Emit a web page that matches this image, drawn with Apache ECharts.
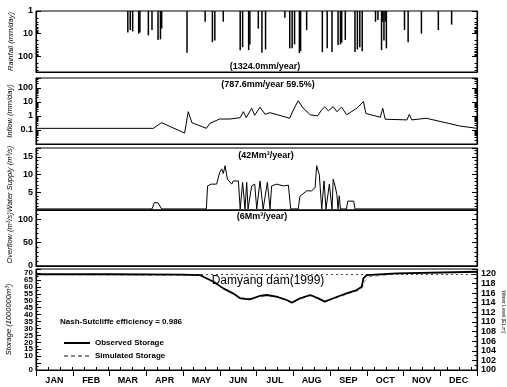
<!DOCTYPE html>
<html><head><meta charset="utf-8">
<script src="https://cdn.jsdelivr.net/npm/echarts@6/dist/echarts.min.js"></script>
<style>html,body{margin:0;padding:0;background:#fff}#c{width:507px;height:387px}</style>
</head><body><div id="c"></div><script>
// ---- data (x = day of year) ----
const months = ['JAN','FEB','MAR','APR','MAY','JUN','JUL','AUG','SEP','OCT','NOV','DEC'];
const rainfall = [[76,9],[78,7],[80,8],[85,10],[86,9],[93,12],[96,7],[101,19],[103,18],[104,6],[125,70],[140,3],[146,24],[148,20],[155,3],[169,54],[171,40],[176,54],[177,30],[184,6],[187,70],[190,50],[206,2],[210,45],[212,44],[214,30],[218,73],[219,60],[224,7],[237,66],[241,44],[245,66],[250,32],[252,30],[253,25],[256,19],[264,66],[266,50],[268,40],[270,60],[281,3],[283,2.5],[286,54],[287,3],[288,20],[289,3],[290,45],[305,7],[308,24],[319,10],[333,7],[344,4]];
const inflow = [[0,0.13],[97,0.13],[104,0.33],[108,0.23],[123,0.06],[126,2.0],[129,0.33],[141,0.13],[144,0.3],[152,0.6],[160.6,0.6],[169,0.75],[171.6,2.0],[174,0.75],[178.5,3.5],[181,1.1],[185.4,4.2],[189.6,1.3],[193.7,1.7],[210,0.68],[213,2.7],[217,12],[221,3.7],[227,1.2],[233,1.0],[236.5,2.7],[239,4.4],[242,2.3],[246,4.6],[249,2.0],[253,4.2],[257,1.2],[261,2.0],[265.5,3.5],[271,10.5],[273,1.5],[285,0.8],[287,3.5],[289,0.58],[307,0.52],[309,1.3],[311,0.52],[323,0.68],[351,0.19],[365,0.13]];
const waterSupply = [[0,0.3],[96,0.3],[98,2.1],[101,2.0],[104,0.3],[141,0.3],[142,6.8],[145,7.3],[149.5,7.3],[152,10.6],[153.7,11.6],[155,10.3],[156.5,12.5],[158.4,8.7],[162,7.3],[163.3,8.2],[167.5,8.2],[169,0.3],[171,7.8],[173,0.3],[174.4,7.8],[175.5,0.3],[178.5,6.8],[181,7.3],[182.7,0.3],[185.4,8.2],[188,0.3],[191.5,7.8],[193.7,0.3],[195,6.8],[199,7.3],[204.7,6.8],[208.9,7.0],[210.8,0.3],[217,0.3],[218.5,3.9],[224,5.4],[228,5.4],[231,6.3],[232.3,12.5],[234.5,9.9],[236.5,0.3],[238.4,8.2],[240,0.3],[242.8,7.3],[245,0.3],[246,8.7],[247.5,6.8],[249,4.4],[250,0.3],[251,4.0],[252,0.3],[257,0.3],[258,2.5],[263,2.5],[264,0.3],[365,0.3]];
const overflow = [[0,0],[365,0]];
const observedStorage = [[0,69.2],[60,69.2],[120,69.0],[136,68.6],[138.5,67.4],[147,63.8],[155,59],[163,55.4],[169,51.8],[177,51.1],[185,53.5],[191,54.2],[199,53],[207.5,50.6],[211.7,48.6],[218.5,51.8],[227,54.2],[233.7,51.8],[239,49.4],[245,51.5],[251,53.5],[257,55.4],[265.5,57.8],[269.6,60.2],[271,66.3],[273.7,68.6],[298.6,69.9],[365,71]];
const simulatedStorage = [[0,69.0],[136,68.4],[140,66.5],[148,63.0],[156,58.5],[164,55.0],[170,52.3],[178,51.6],[186,53.0],[192,53.8],[200,52.6],[208,50.2],[212,49.2],[219,51.5],[227,53.6],[234,51.4],[239,49.9],[246,51.2],[252,53.2],[258,55.0],[266,57.2],[270,59.5],[272,64],[276,67.5],[300,69.5],[365,70.7]];
const highWaterLevel = [[0,69.0],[365,69.0]];
const texts = {
  rain: '(1324.0mm/year)', inflow: '(787.6mm/year 59.5%)', supply: '(42Mm³/year)', overflow: '(6Mm³/year)',
  title: 'Damyang dam(1999)', nse: 'Nash-Sutcliffe efficiency = 0.986'
};

// ---- chart ----
const FONT = "'Liberation Sans Narrow','Liberation Sans',Arial,sans-serif";
const lab = {fontSize:9, fontWeight:'bold', color:'#000', fontFamily:FONT, margin:3};
const grids = [
  {left:36, right:30, top:11, height:61},
  {left:36, right:30, top:78, height:66},
  {left:36, right:30, top:148, height:62},
  {left:36, right:30, top:210, height:56},
  {left:36, right:30, top:269, height:101}
].map(g => Object.assign({show:true, borderColor:'#000', borderWidth:1, backgroundColor:'transparent',
  containLabel:false, outerBoundsMode:'none'}, g));

function xAx(i, bottom) {
  return {type:'value', gridIndex:i, min:0, max:365, interval:10,
    axisLine:{show:true, lineStyle:{color:'#000', width:1.2}},
    axisTick:{show:!!bottom, inside:true, length:3, lineStyle:{color:'#000'}},
    axisLabel:{show:false}, splitLine:{show:false}};
}
const axLine = {show:true, lineStyle:{color:'#000', width:1.2}};
const tick = {show:true, inside:true, length:5, lineStyle:{color:'#000'}};
const minor = {show:true, splitNumber:5, length:2.5, lineStyle:{color:'#000'}};
function yName(n, gap) {
  return {name:n, nameLocation:'middle', nameRotate:90, nameGap:gap, nameMoveOverlap:false,
    nameTextStyle:{fontSize:7.5, fontStyle:'italic', color:'#000', fontFamily:FONT}};
}
function rightAx(base) {
  return Object.assign({}, base, {position:'right', axisLabel:{show:false}, name:''});
}

const yRain = Object.assign({type:'log', logBase:10, gridIndex:0, min:1, max:500, inverse:true,
  axisLine:axLine, axisTick:tick, minorTick:Object.assign({}, minor, {splitNumber:9}),
  axisLabel:Object.assign({}, lab, {showMaxLabel:false}), splitLine:{show:false}}, yName('Rainfall (mm/day)', 21));
const yInflow = Object.assign({type:'log', logBase:10, gridIndex:1, min:0.01, max:500,
  axisLine:axLine, axisTick:tick, minorTick:Object.assign({}, minor, {splitNumber:9}),
  axisLabel:Object.assign({}, lab, {showMinLabel:false, showMaxLabel:false, formatter:v=>String(+(+v).toPrecision(3))}),
  splitLine:{show:false}}, yName('Inflow (mm/day)', 22));
const ySupply = Object.assign({type:'value', gridIndex:2, min:0, max:17.5, interval:5,
  axisLine:axLine, axisTick:tick, minorTick:minor,
  axisLabel:Object.assign({}, lab, {showMinLabel:false, showMaxLabel:false}), splitLine:{show:false}}, yName('Water Supply (m³/s)', 22));
const yOverflow = Object.assign({type:'value', gridIndex:3, min:0, max:120, interval:50,
  axisLine:axLine, axisTick:tick, minorTick:minor,
  axisLabel:Object.assign({}, lab, {showMaxLabel:false}), splitLine:{show:false}}, yName('Overflow (m³/s)', 22));
const yStorage = Object.assign({type:'value', gridIndex:4, min:0, max:73, interval:5,
  axisLine:axLine, axisTick:tick, minorTick:Object.assign({}, minor, {splitNumber:2}),
  axisLabel:Object.assign({}, lab, {fontSize:8, showMinLabel:true, showMaxLabel:false}), splitLine:{show:false}}, yName('Storage (1000000m³)', 23));
const yLevel = {type:'value', gridIndex:4, position:'right', min:100, max:121, interval:2,
  axisLine:axLine, axisTick:tick, minorTick:Object.assign({}, minor, {splitNumber:2}),
  axisLabel:Object.assign({}, lab, {showMaxLabel:false, margin:4}), splitLine:{show:false}};

const option = {
  animation:false,
  backgroundColor:'#fff',
  textStyle:{fontFamily:FONT},
  grid:grids,
  xAxis:[xAx(0), xAx(1), xAx(2), xAx(3), xAx(4, true),
    {type:'category', gridIndex:4, data:months, boundaryGap:true, position:'bottom',
     axisLine:{show:false}, axisTick:{show:true, inside:false, length:6, lineStyle:{color:'#000'}},
     axisLabel:Object.assign({}, lab, {margin:6}), splitLine:{show:false}}],
  yAxis:[yRain, yInflow, ySupply, yOverflow, yStorage, yLevel,
    rightAx(yRain), rightAx(yInflow), rightAx(ySupply), rightAx(yOverflow)],
  legend:{orient:'vertical', left:58, top:334, itemWidth:26, itemHeight:8, itemGap:5,
    data:['Observed Storage','Simulated Storage'],
    itemStyle:{opacity:0},
    textStyle:{fontSize:8, fontWeight:'bold', color:'#000', fontFamily:FONT}},
  series:[
    {type:'bar', name:'Rainfall', xAxisIndex:0, yAxisIndex:0, data:rainfall, barWidth:1.5,
      itemStyle:{color:'#000'}},
    {type:'line', name:'Inflow', xAxisIndex:1, yAxisIndex:1, data:inflow, symbol:'none',
      lineStyle:{color:'#000', width:1}},
    {type:'line', name:'Water Supply', xAxisIndex:2, yAxisIndex:2, data:waterSupply, symbol:'none',
      lineStyle:{color:'#000', width:1}},
    {type:'line', name:'Overflow', xAxisIndex:3, yAxisIndex:3, data:overflow, symbol:'none',
      lineStyle:{color:'#000', width:1}},
    {type:'line', name:'High Water Level', xAxisIndex:4, yAxisIndex:4, data:highWaterLevel, symbol:'none',
      lineStyle:{color:'#444', width:1, type:[2,3]}},
    {type:'line', name:'Simulated Storage', xAxisIndex:4, yAxisIndex:4, data:simulatedStorage, symbol:'none',
      lineStyle:{color:'#888', width:1, type:[4,3]}, itemStyle:{color:'#888'}},
    {type:'line', name:'Observed Storage', xAxisIndex:4, yAxisIndex:4, data:observedStorage, symbol:'none',
      lineStyle:{color:'#000', width:1.8}, itemStyle:{color:'#000'}}
  ],
  graphic:[
    {type:'text', x:265, y:67, style:{text:texts.rain, align:'center', verticalAlign:'middle', font:'bold 9px '+FONT, fill:'#000'}},
    {type:'text', x:268, y:85, style:{text:texts.inflow, align:'center', verticalAlign:'middle', font:'bold 9px '+FONT, fill:'#000'}},
    {type:'text', x:266, y:156, style:{text:texts.supply, align:'center', verticalAlign:'middle', font:'bold 9px '+FONT, fill:'#000'}},
    {type:'text', x:262, y:217, style:{text:texts.overflow, align:'center', verticalAlign:'middle', font:'bold 9px '+FONT, fill:'#000'}},
    {type:'text', x:268, y:281, style:{text:texts.title, align:'center', verticalAlign:'middle', font:'12px '+FONT, fill:'#000'}},
    {type:'text', x:60, y:322, style:{text:texts.nse, align:'left', verticalAlign:'middle', font:'bold 8px '+FONT, fill:'#000'}},
    {type:'text', x:503, y:312, rotation:-Math.PI/2, style:{text:'Water Level (EL.m)', align:'center', verticalAlign:'middle', font:'5px '+FONT, fill:'#000'}}
  ]
};
const chart = echarts.init(document.getElementById('c'), null, {renderer:'canvas'});
chart.setOption(option);
</script></body></html>
